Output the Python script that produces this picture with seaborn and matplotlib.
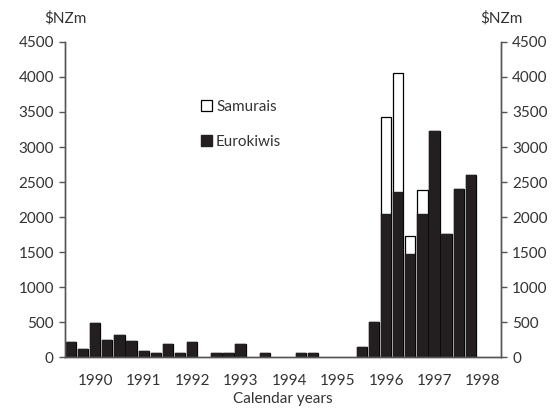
import pandas as pd
import numpy as np
import matplotlib
matplotlib.use('Agg')
import matplotlib.pyplot as plt
import matplotlib.ticker as ticker
from matplotlib.patches import Patch
import seaborn as sns

# quarterly issuance, 1990 Q1 .. 1998 Q4 ($NZm)
years = [1990, 1991, 1992, 1993, 1994, 1995, 1996, 1997, 1998]
quarters = ['Q1', 'Q2', 'Q3', 'Q4']
eurokiwis = [210, 110, 490, 245,
             310, 230, 85, 55,
             190, 65, 210, 0,
             55, 55, 190, 0,
             55, 0, 0, 55,
             55, 0, 0, 0,
             150, 500, 2050, 2360,
             1470, 2050, 3230, 1760,
             2400, 2600, 0, 0]
samurais = [0] * 26 + [1380, 1700, 260, 340] + [0] * 6
y_ticks = [0, 500, 1000, 1500, 2000, 2500, 3000, 3500, 4000, 4500]

period = [f"{y} {q}" for y in years for q in quarters]
df = pd.DataFrame({'period': period, 'eurokiwis': eurokiwis, 'samurais': samurais})
df['total'] = df['eurokiwis'] + df['samurais']

sns.set_style('white')
plt.rcParams['font.family'] = ['Lato', 'DejaVu Sans']
text_col = '#333333'
axis_col = '#555555'
bar_col = '#231f20'
fs = 11

fig = plt.figure(figsize = (5.55, 4.11), dpi = 100)
ax = fig.add_axes([0.117, 0.131, 0.786, 0.767])

sns.barplot(x = 'period', y = 'total', data = df, color = 'white', edgecolor = 'black',
            linewidth = 0.9, width = 0.85, saturation = 1, ax = ax)
sns.barplot(x = 'period', y = 'eurokiwis', data = df, color = bar_col, edgecolor = bar_col,
            linewidth = 0.3, width = 0.85, saturation = 1, ax = ax)

# empty quarters should not leave an outline on the baseline
for p in ax.patches:
    if p.get_height() == 0:
        p.set_visible(False)

ax.set_xlim(-0.5, len(period) - 0.5)
ax.set_ylim(0, 4500)
ax.set_yticks(y_ticks)
ax.set_ylabel('')
ax.set_xlabel('Calendar years', fontsize = fs, color = text_col, labelpad = 3)

# year boundaries as major ticks, year labels as minor ticks in between
ax.xaxis.set_major_locator(ticker.FixedLocator(np.arange(-0.5, len(period), 4)))
ax.xaxis.set_major_formatter(ticker.NullFormatter())
ax.xaxis.set_minor_locator(ticker.FixedLocator(np.arange(len(years)) * 4 + 2.0))
ax.xaxis.set_minor_formatter(ticker.FixedFormatter([str(y) for y in years]))
ax.tick_params(axis = 'x', which = 'major', direction = 'out', length = 4, width = 1, color = axis_col)
ax.tick_params(axis = 'x', which = 'minor', length = 0, pad = 12, labelsize = fs, labelcolor = text_col)
ax.tick_params(axis = 'y', direction = 'out', length = 4, width = 1, color = axis_col, pad = 4,
               labelsize = fs, labelcolor = text_col, left = True)

ax2 = ax.twinx()
ax2.set_ylim(0, 4500)
ax2.set_yticks(y_ticks)
ax2.tick_params(axis = 'y', direction = 'out', length = 4, width = 1, color = axis_col, pad = 4,
                labelsize = fs, labelcolor = text_col, right = True)

for a in (ax, ax2):
    a.spines['top'].set_visible(False)
    for s in ('left', 'right', 'bottom'):
        a.spines[s].set_color(axis_col)
        a.spines[s].set_linewidth(1)

ax.text(0.0, 1.075, '$NZm', transform = ax.transAxes, ha = 'center', va = 'center',
        fontsize = fs, color = text_col)
ax.text(1.0, 1.075, '$NZm', transform = ax.transAxes, ha = 'center', va = 'center',
        fontsize = fs, color = text_col)

handles = [Patch(facecolor = 'white', edgecolor = 'black', linewidth = 0.9, label = 'Samurais'),
           Patch(facecolor = bar_col, edgecolor = bar_col, label = 'Eurokiwis')]
ax.legend(handles = handles, loc = 'upper left', bbox_to_anchor = (0.28, 0.86), frameon = False,
          handlelength = 0.7, handleheight = 0.7, handletextpad = 0.3, labelspacing = 1.4,
          fontsize = fs, labelcolor = text_col)

fig.savefig('out.png', dpi = 100)
